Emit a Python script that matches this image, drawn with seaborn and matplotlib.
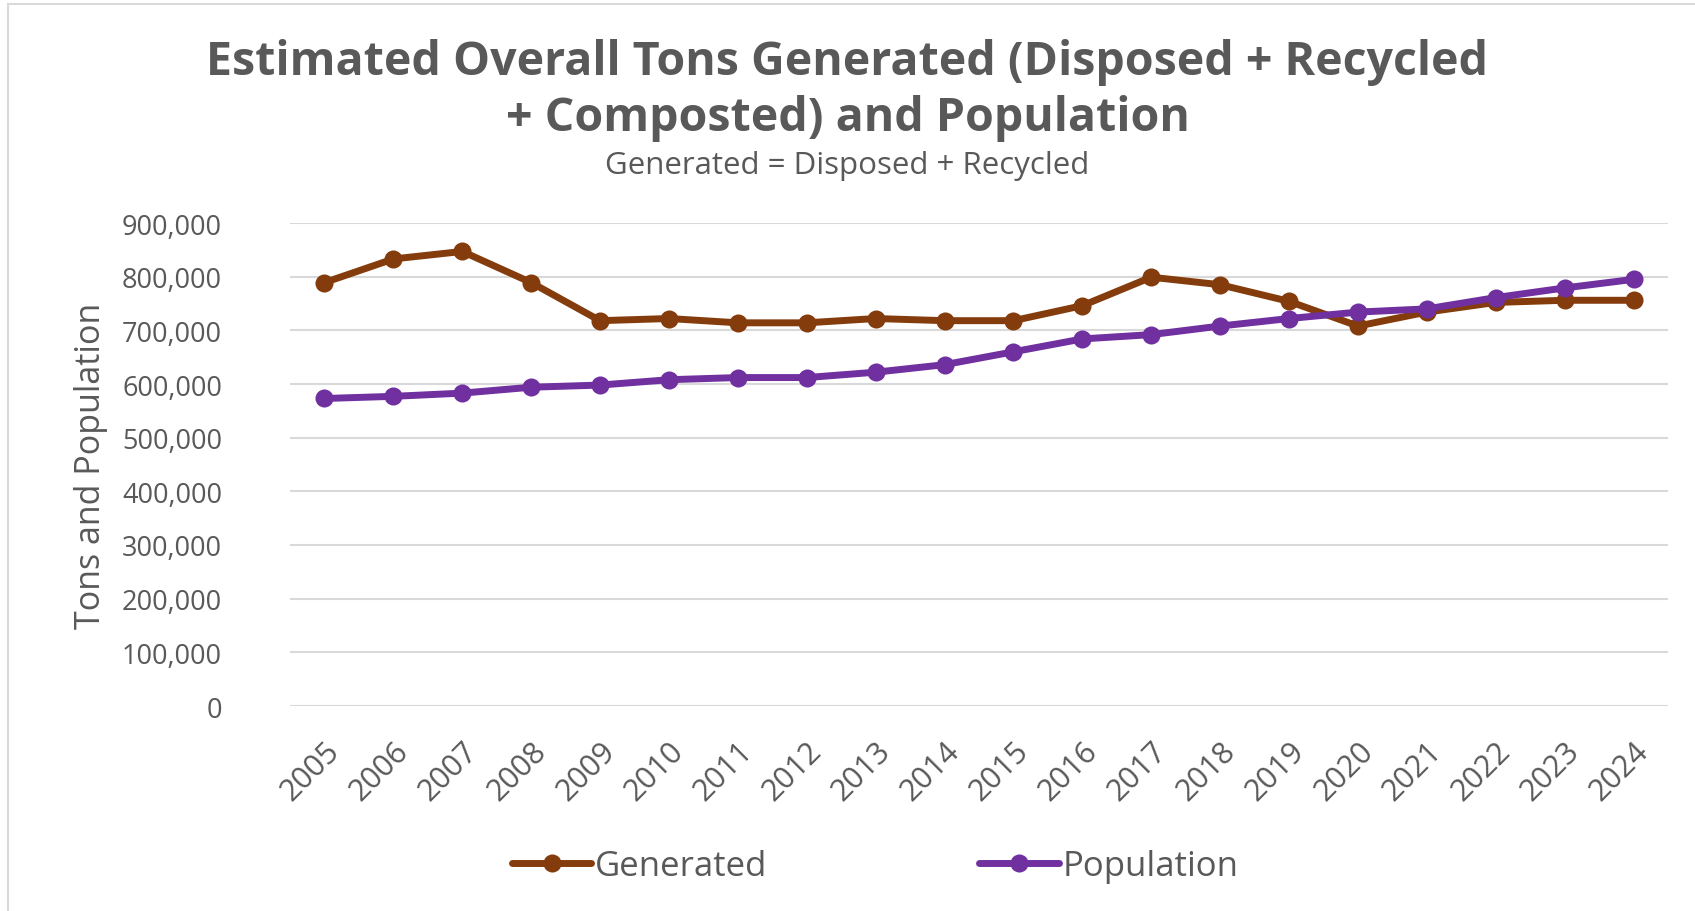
import matplotlib
matplotlib.use("Agg")
import matplotlib.pyplot as plt
import seaborn as sns
import pandas as pd
from matplotlib.ticker import FuncFormatter
from matplotlib.patches import Rectangle

years = list(range(2005, 2025))
generated = [789000, 833000, 847000, 789000, 718000, 722000, 714000, 714000, 722000, 718000,
             718000, 746000, 799000, 785000, 754000, 708000, 734000, 752000, 756000, 756000]
population = [573000, 577000, 583000, 594000, 598000, 608000, 612000, 612000, 622000, 636000,
              660000, 684000, 692000, 708000, 722000, 734000, 740000, 761000, 779000, 795000]

df = pd.DataFrame({"Year": years, "Generated": generated, "Population": population})
long = df.melt(id_vars="Year", var_name="Series", value_name="Value")

sns.set_style("white")
plt.rcParams["font.family"] = ["Open Sans", "DejaVu Sans"]
text_col = "#595959"

fig = plt.figure(figsize=(16.95, 9.12), dpi=100)
ax = fig.add_axes([290 / 1695, 1 - 707 / 912, (1668 - 290) / 1695, (707 - 224) / 912])

sns.lineplot(data=long, x="Year", y="Value", hue="Series",
             palette={"Generated": "#843C0C", "Population": "#7030A0"},
             marker="o", markersize=13, markeredgewidth=0, linewidth=5, ax=ax)

ax.set_xlim(years[0] - 0.5, years[-1] + 0.5)
ax.set_ylim(0, 900000)
ax.set_yticks(range(0, 900001, 100000))
ax.yaxis.set_major_formatter(FuncFormatter(lambda v, p: f"{int(v):,}"))
ax.set_xticks(years)
ax.set_xticklabels([str(y) for y in years], rotation=45, ha="right", rotation_mode="anchor")
ax.grid(axis="y", color="#D9D9D9", linewidth=1.5)
ax.set_axisbelow(True)
for s in ax.spines.values():
    s.set_visible(False)
ax.tick_params(axis="both", colors=text_col, length=0)
ax.tick_params(axis="y", labelsize=19.5, pad=49)
ax.tick_params(axis="x", labelsize=22, pad=21)
ax.set_xlabel("")
ax.set_ylabel("Tons and Population", fontsize=24.5, color=text_col, labelpad=10)

handles, labels = ax.get_legend_handles_labels()
ax.legend(handles, labels, loc="center", ncol=2, frameon=False, fontsize=25,
          labelcolor=text_col, columnspacing=6.1, handlelength=2.3, handletextpad=0.1,
          bbox_to_anchor=(875 / 1695, 1 - 867 / 912), bbox_transform=fig.transFigure)

fig.text(0.5, 1 - 63 / 912, "Estimated Overall Tons Generated (Disposed + Recycled",
         ha="center", va="center", fontsize=33.5, fontweight="bold", color=text_col)
fig.text(0.5, 1 - 119 / 912, "+ Composted) and Population",
         ha="center", va="center", fontsize=33.5, fontweight="bold", color=text_col)
fig.text(0.5, 1 - 166 / 912, "Generated = Disposed + Recycled",
         ha="center", va="center", fontsize=22.5, color=text_col)

fig.patches.append(Rectangle((8 / 1695, -0.1), 1.2, 1.1 - 5 / 912, transform=fig.transFigure,
                             fill=False, edgecolor="#D9D9D9", linewidth=1.5))

fig.savefig("out.png", dpi=100)
